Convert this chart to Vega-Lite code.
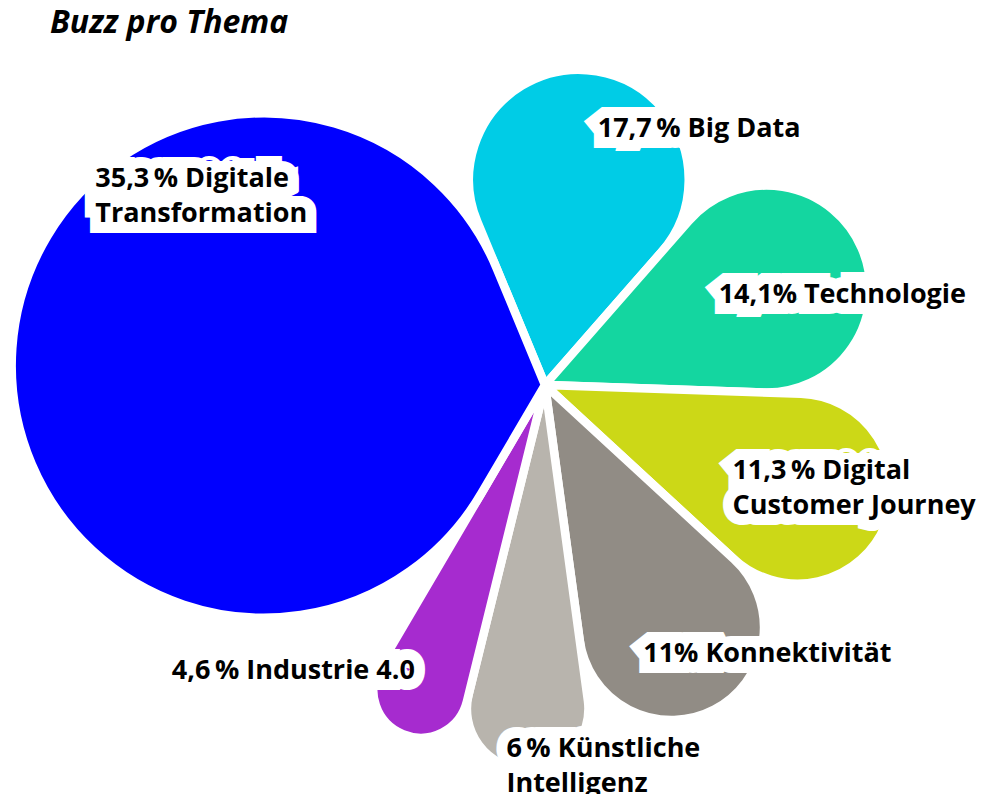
{
  "$schema": "https://vega.github.io/schema/vega-lite/v6.json",
  "autosize": {"type": "none"},
  "padding": {"left": 100, "top": 40, "right": 0, "bottom": 64},
  "width": 890,
  "height": 690,
  "background": "white",
  "title": {
    "text": "Buzz pro Thema",
    "anchor": "start",
    "frame": "group",
    "font": "Open Sans",
    "fontSize": 32,
    "fontWeight": "bold",
    "fontStyle": "italic",
    "color": "#000000",
    "dx": -50,
    "dy": 30,
    "offset": 5,
    "baseline": "alphabetic"
  },
  "data": {
    "values": [
      {"nr": 1, "thema": "Big Data", "anteil": 17.7, "label": "17,7\u2009% Big Data"},
      {"nr": 2, "thema": "Technologie", "anteil": 14.1, "label": "14,1% Technologie"},
      {"nr": 3, "thema": "Digital Customer Journey", "anteil": 11.3, "label": "11,3\u2009% Digital\nCustomer Journey"},
      {"nr": 4, "thema": "Konnektivität", "anteil": 11, "label": "11% Konnektivität"},
      {"nr": 5, "thema": "Künstliche Intelligenz", "anteil": 6, "label": "6\u2009% Künstliche\nIntelligenz"},
      {"nr": 6, "thema": "Industrie 4.0", "anteil": 4.6, "label": "4,6\u2009% Industrie 4.0"},
      {"nr": 7, "thema": "Digitale Transformation", "anteil": 35.3, "label": "35,3\u2009% Digitale\nTransformation"}
    ]
  },
  "encoding": {
    "theta": {"field": "anteil", "type": "quantitative", "stack": true, "scale": {"domain": [0, 100], "range": [-0.3927, 5.8905]}},
    "radius": {"field": "anteil", "type": "quantitative", "scale": {"type": "linear", "domain": [0, 4.6, 6, 11, 11.3, 14.1, 17.7, 35.3], "range": [0, 377, 385, 366, 368, 345, 318, 534], "zero": false, "nice": false}},
    "order": {"field": "nr", "type": "quantitative"}
  },
  "layer": [
    {
      "mark": {"type": "arc", "cornerRadius": 1000, "stroke": "white", "strokeWidth": 8.5},
      "encoding": {
        "color": {
          "field": "thema",
          "type": "nominal",
          "scale": {
            "domain": ["Big Data", "Technologie", "Digital Customer Journey", "Konnektivität", "Künstliche Intelligenz", "Industrie 4.0", "Digitale Transformation"],
            "range": ["#00CCE6", "#14D6A0", "#CCD817", "#918C85", "#B8B4AD", "#A62BCF", "#0000FF"]
          },
          "legend": null
        }
      }
    },
    {
      "mark": {
        "type": "text",
        "font": "Open Sans",
        "fontSize": 27,
        "fontWeight": "bold",
        "lineBreak": "\n",
        "lineHeight": 35,
        "baseline": "alphabetic",
        "align": {"expr": "datum.nr == 6 ? 'right' : 'left'"},
        "dx": {"expr": "[1,-143,-153,-71,-18,12,83][datum.nr-1]"},
        "dy": {"expr": "[66,55,-46,-48,-12,-55,-161][datum.nr-1]"},
        "fill": "white",
        "stroke": "white",
        "strokeWidth": 22,
        "strokeJoin": "miter",
        "strokeMiterLimit": 2
      },
      "encoding": {"text": {"field": "label", "type": "nominal"}}
    },
    {
      "mark": {
        "type": "text",
        "font": "Open Sans",
        "fontSize": 27,
        "fontWeight": "bold",
        "lineBreak": "\n",
        "lineHeight": 35,
        "baseline": "alphabetic",
        "align": {"expr": "datum.nr == 6 ? 'right' : 'left'"},
        "dx": {"expr": "[1,-143,-153,-71,-18,12,83][datum.nr-1]"},
        "dy": {"expr": "[66,55,-46,-48,-12,-55,-161][datum.nr-1]"},
        "fill": "#000000"
      },
      "encoding": {"text": {"field": "label", "type": "nominal"}}
    }
  ],
  "config": {"view": {"stroke": null}}
}
